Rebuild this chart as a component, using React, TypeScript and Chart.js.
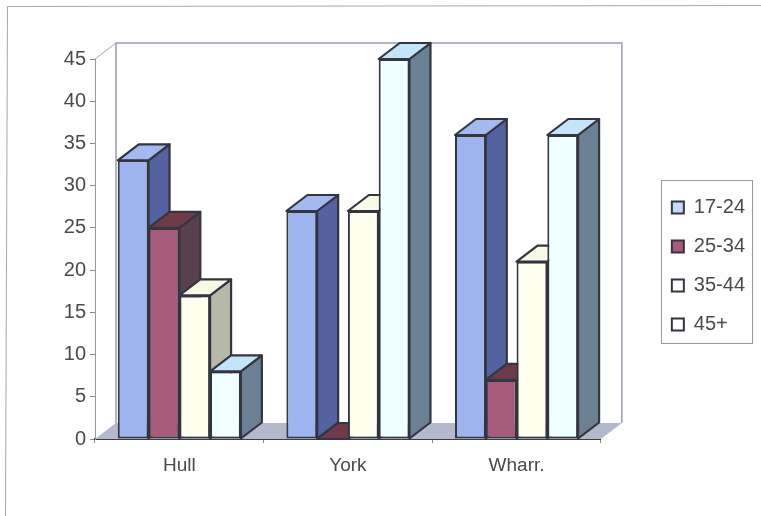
import React, { useEffect, useRef } from "react";
import { Chart, registerables } from "chart.js";

Chart.register(...registerables);

const categories = ["Hull", "York", "Wharr."];
const seriesNames = ["17-24", "25-34", "35-44", "45+"];
const age1724 = [33, 27, 36];
const age2534 = [25, 0, 7];
const age3544 = [17, 27, 21];
const age45plus = [8, 45, 36];
const yTicks = [0, 5, 10, 15, 20, 25, 30, 35, 40, 45];

const frontColors = ["#9db4ee", "#a65a7c", "#fffff0", "#f0ffff"];
const sideColors = ["#55629f", "#58404f", "#b8b8a8", "#6c8094"];
const topColors = ["#a3b9f0", "#6d3c48", "#f8f8e6", "#c4e4fa"];
const legendFills = ["#c8d8fb", "#a65a7c", "#ffffff", "#ffffff"];
const EDGE = "#33353f";
const TEXT = "#4a4a4a";
const DX = 21;
const DY = 16;

const depthPlugin = {
  id: "depth",
  beforeDraw(chart: any) {
    const c = chart.ctx;
    c.save();
    c.fillStyle = "#fefefe";
    c.fillRect(0, 0, chart.width, chart.height);
    // outer frame
    c.strokeStyle = "#a8a8a8";
    c.lineWidth = 1;
    c.beginPath();
    c.moveTo(5.5, 516);
    c.lineTo(7.5, 6.5);
    c.lineTo(761, 5.5);
    c.stroke();
    // legend frame
    const boxes = chart.legend.legendHitBoxes;
    const l = boxes[0].left - 11;
    const t = boxes[0].top - 18;
    const last = boxes[boxes.length - 1];
    c.strokeStyle = "#999999";
    c.strokeRect(Math.round(l) + 0.5, Math.round(t) + 0.5, 91, last.top + last.height + 8 - t);
    c.restore();
  },
  beforeDatasetsDraw(chart: any) {
    const c = chart.ctx;
    const a = chart.chartArea;
    c.save();
    c.fillStyle = "#b4b8cc";
    c.beginPath();
    c.moveTo(a.left, a.bottom);
    c.lineTo(a.left + DX, a.bottom - DY);
    c.lineTo(a.right + DX, a.bottom - DY);
    c.lineTo(a.right, a.bottom);
    c.closePath();
    c.fill();
    c.strokeStyle = "#9c9cb8";
    c.lineWidth = 1.5;
    c.beginPath();
    c.moveTo(a.left + DX, a.bottom - DY);
    c.lineTo(a.left + DX, a.top - DY);
    c.lineTo(a.right + DX, a.top - DY);
    c.lineTo(a.right + DX, a.bottom - DY);
    c.stroke();
    c.strokeStyle = "#a8a8a8";
    c.lineWidth = 1;
    c.beginPath();
    c.moveTo(a.left, a.top);
    c.lineTo(a.left + DX, a.top - DY);
    c.stroke();
    // bars are painted first series first, so later bars cover earlier side faces
    c.lineJoin = "round";
    seriesNames.forEach((_, i) => {
      const meta = chart.getDatasetMeta(i);
      for (const bar of meta.data) {
        const p = bar.getProps(["x", "y", "base", "width"], true);
        const x0 = p.x - p.width / 2;
        const x1 = p.x + p.width / 2;
        c.lineWidth = 2.2;
        c.strokeStyle = EDGE;
        c.fillStyle = sideColors[i];
        c.beginPath();
        c.moveTo(x1, p.y);
        c.lineTo(x1 + DX, p.y - DY);
        c.lineTo(x1 + DX, p.base - DY);
        c.lineTo(x1, p.base);
        c.closePath();
        c.fill();
        c.stroke();
        c.fillStyle = topColors[i];
        c.beginPath();
        c.moveTo(x0, p.y);
        c.lineTo(x0 + DX, p.y - DY);
        c.lineTo(x1 + DX, p.y - DY);
        c.lineTo(x1, p.y);
        c.closePath();
        c.fill();
        c.stroke();
        bar.draw(c);
      }
    });
    c.restore();
  },
  beforeDatasetDraw() {
    return false;
  },
};

export default function App() {
  const ref = useRef<HTMLCanvasElement>(null);
  useEffect(() => {
    const values = [age1724, age2534, age3544, age45plus];
    const family = "'Liberation Sans', Arial, sans-serif";
    const font = { family, size: 19 };
    const bigFont = { family, size: 20 };
    const chart = new Chart(ref.current!, {
      type: "bar",
      data: {
        labels: categories,
        datasets: seriesNames.map((label, i) => ({
          label,
          data: values[i],
          backgroundColor: frontColors[i],
          borderColor: EDGE,
          borderWidth: 2,
          borderSkipped: false,
          barPercentage: 1,
          categoryPercentage: 0.73,
        })),
      },
      options: {
        responsive: false,
        animation: false,
        layout: { padding: { top: 59, bottom: 43, left: 0, right: 6 } },
        plugins: {
          tooltip: { enabled: false },
          legend: {
            position: "right",
            labels: {
              font: bigFont,
              color: TEXT,
              boxWidth: 12,
              boxHeight: 12,
              padding: 19,
              generateLabels(ch: any) {
                return Chart.defaults.plugins.legend.labels
                  .generateLabels(ch)
                  .map((it: any, i: number) => ({ ...it, fillStyle: legendFills[i], lineWidth: 2 }));
              },
            },
          },
        },
        scales: {
          x: {
            ticks: { font, color: TEXT, padding: 11, maxRotation: 0 },
            grid: { drawOnChartArea: false, tickLength: 4, color: "#888888" },
            border: { color: "#3c3c44", width: 2 },
            afterFit(s: any) {
              s.height = 34;
            },
          },
          y: {
            min: 0,
            max: 45,
            afterBuildTicks(s: any) {
              s.ticks = yTicks.map((value) => ({ value }));
            },
            ticks: { font: bigFont, color: TEXT, padding: 4 },
            grid: { drawOnChartArea: false, tickLength: 5, color: "#888888" },
            border: { color: "#999999", width: 1 },
            afterFit(s: any) {
              s.width = 95;
            },
          },
          spacer: {
            position: "right",
            grid: { display: false },
            border: { display: false },
            ticks: { display: false },
            afterFit(s: any) {
              s.width = 52;
            },
          },
        },
      },
      plugins: [depthPlugin],
    } as any);
    return () => chart.destroy();
  }, []);
  return (
    <canvas
      ref={ref}
      width={761}
      height={516}
      style={{ position: "absolute", left: 0, top: 0, display: "block" }}
    />
  );
}
